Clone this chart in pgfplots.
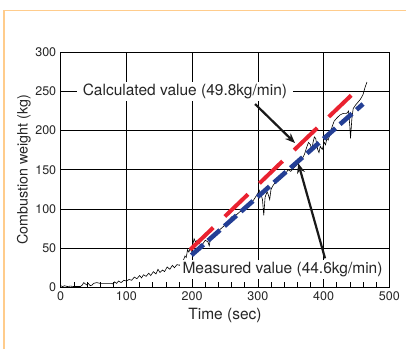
\documentclass[border=0pt]{standalone}
\usepackage{pgfplots}
\pgfplotsset{compat=1.18}
\usepackage{fontspec}
\setmainfont{TeX Gyre Heros}
\usetikzlibrary{arrows.meta}
\definecolor{frameor}{HTML}{FFCC8C}
\definecolor{calcred}{HTML}{EA2230}
\definecolor{measblue}{HTML}{243F95}
\begin{document}
\begin{tikzpicture}[x=1pt,y=1pt]
\path[use as bounding box,fill=white] (0,0) rectangle (406,349);
\draw[frameor,line width=1.6pt] (3.7,0) -- (3.7,338.3) -- (406,338.3);
\begin{axis}[
  at={(60.7pt,61.7pt)}, anchor=south west,
  scale only axis, width=328.6pt, height=235pt,
  xmin=0, xmax=500, ymin=0, ymax=300,
  xtick={0,100,400,500}, extra x ticks={200,300},
  ytick={0,50,150,250,300}, extra y ticks={100,200},
  extra x tick style={grid style={black!45,line width=0.9pt}},
  extra y tick style={grid style={black!45,line width=0.9pt}},
  minor xtick={20,40,60,80,120,140,160,180,220,240,260,280,320,340,360,380,420,440,460,480},
  grid=major,
  major grid style={black,line width=0.7pt},
  tick pos=left, tick align=inside,
  major tick length=0pt, minor tick length=5pt,
  minor tick style={black,line width=0.6pt},
  axis line style={line width=1.4pt},
  /pgf/number format/assume math mode=true,
  tick label style={font=\fontsize{12.5}{14}\selectfont, black!85},
  yticklabel style={xshift=-1pt},
  xticklabel style={yshift=-1pt},
  xlabel={Time (sec)}, ylabel={Combustion weight (kg)},
  xlabel style={font=\fontsize{15.5}{18}\selectfont, black!85, at={(axis description cs:0.5,-0.118)}, anchor=center},
  ylabel style={font=\fontsize{14.3}{17}\selectfont, black!85, at={(axis description cs:-0.112,0.5)}, anchor=center},
]
\addplot[black, line width=0.6pt] coordinates {
(0,2) (3,1) (6,2) (10,1) (15,1.5) (20,1) (25,1) (30,1) (33,3) (35,6) (38,4) (40,3) (42,5) (45,2) (48,3) (50,5) (55,6) (60,5) (70,5) (78,5) (80,4) (82,7) (85,5) (88,8) (92,6) (96,9) (100,8) (104,10) (108,9) (112,13) (116,11) (120,15) (123,12) (126,16) (130,14) (134,18) (137,15) (141,20) (145,17) (148,23) (151,19) (155,22) (158,20) (162,26) (166,23) (170,28) (173,25) (177,29) (181,28) (184,33) (187,35) (189,40) (191,38) (193,48) (195,45) (197,50) (199,46) (201,55) (203,62) (205,58) (208,60) (212,55) (215,54) (220,60) (224,58) (226,53) (228,62) (232,66) (236,70) (240,72) (244,75) (248,78) (252,82) (256,85) (260,90) (264,91) (268,93) (272,96) (276,98) (280,100) (283,104) (286,102) (290,108) (294,112) (297,116) (300,120) (302,124) (305,118) (307,112) (309,92) (311,115) (314,122) (316,118) (318,112) (320,125) (323,130) (326,133) (330,136) (334,138) (338,142) (342,145) (346,150) (350,148) (354,152) (358,155) (362,160) (365,165) (368,165) (371,170) (374,178) (377,185) (380,182) (382,176) (384,185) (386,192) (388,190) (391,176) (393,172) (395,180) (398,176) (401,185) (403,182) (405,190) (407,188) (410,196) (413,205) (416,212) (420,216) (425,220) (430,222) (435,222) (438,225) (440,205) (441,190) (443,215) (445,228) (448,232) (452,236) (456,240) (460,246) (463,255) (466,262)
};
\addplot[calcred, line width=4pt, dash pattern=on 32pt off 16pt] coordinates {(197,48) (442,245)};
\addplot[measblue, line width=4.6pt, dash pattern=on 16pt off 6pt] coordinates {(199,41) (460,234)};
\node[fill=white, inner sep=2pt, inner xsep=6pt, font=\fontsize{15.5}{18}\selectfont, text=black!85] at (axis cs:189,250) {Calculated value (49.8kg/min)};
\node[fill=white, inner sep=2pt, inner xsep=3pt, font=\fontsize{15.5}{18}\selectfont, text=black!85] at (axis cs:337.5,23) {Measured value (44.6kg/min)};
\draw[black!90, line width=2.2pt, -{Stealth[length=10pt,width=8pt]}] (axis cs:295.7,234) -- (axis cs:356.5,184.2);
\draw[black!90, line width=2.2pt, -{Stealth[length=10pt,width=8pt]}] (axis cs:402.2,37) -- (axis cs:361.5,158.3);
\end{axis}
\end{tikzpicture}
\end{document}
